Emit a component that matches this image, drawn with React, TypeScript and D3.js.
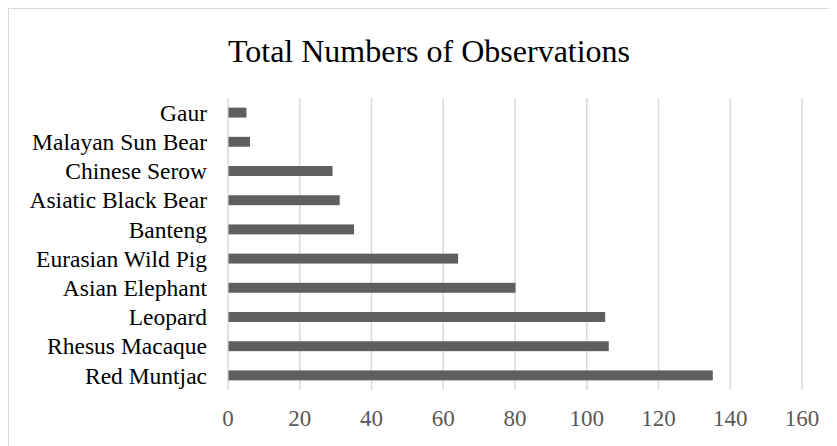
import React from "react";
import * as d3 from "d3";

const categories = [
  "Red Muntjac",
  "Rhesus Macaque",
  "Leopard",
  "Asian Elephant",
  "Eurasian Wild Pig",
  "Banteng",
  "Asiatic Black Bear",
  "Chinese Serow",
  "Malayan Sun Bear",
  "Gaur",
];
const values = [135, 106, 105, 80, 64, 35, 31, 29, 6, 5];
const xTicks = [0, 20, 40, 60, 80, 100, 120, 140, 160];
const title = "Total Numbers of Observations";

export default function App() {
  const W = 829;
  const H = 438;
  const left = 220;
  const right = 794;
  const top = 90;
  const bottom = 382;
  const x = d3.scaleLinear().domain([0, 160]).range([left, right]);
  const y = d3
    .scaleBand<string>()
    .domain([...categories].reverse())
    .range([top, bottom])
    .paddingInner(0.66)
    .paddingOuter(0.33);
  const font =
    '"Times New Roman", Times, "Liberation Serif", Tinos, "Noto Serif", "DejaVu Serif", FreeSerif, serif';
  return (
    <svg width={W} height={H} style={{ display: "block", fontFamily: font }}>
      <rect x={0.5} y={0.5} width={W + 20} height={H + 20} fill="#fff" stroke="#d9d9d9" strokeWidth={1} />
      <text x={421} y={54} textAnchor="middle" fontSize={32} fill="#000">
        {title}
      </text>
      {xTicks.map((t) => (
        <g key={t}>
          <line x1={x(t)} x2={x(t)} y1={top} y2={bottom} stroke="#d9d9d9" strokeWidth={1.5} />
          <text x={x(t)} y={418} textAnchor="middle" fontSize={23} fill="#595959">
            {t}
          </text>
        </g>
      ))}
      {categories.map((c, i) => (
        <g key={c}>
          <rect
            x={x(0) + 0.5}
            y={y(c)!}
            width={x(values[i]) - x(0)}
            height={y.bandwidth()}
            fill="#5f5f5f"
          />
          <text
            x={199}
            y={y(c)! + y.bandwidth() / 2}
            dy="0.35em"
            textAnchor="end"
            fontSize={23.5}
            fill="#000"
          >
            {c}
          </text>
        </g>
      ))}
    </svg>
  );
}
